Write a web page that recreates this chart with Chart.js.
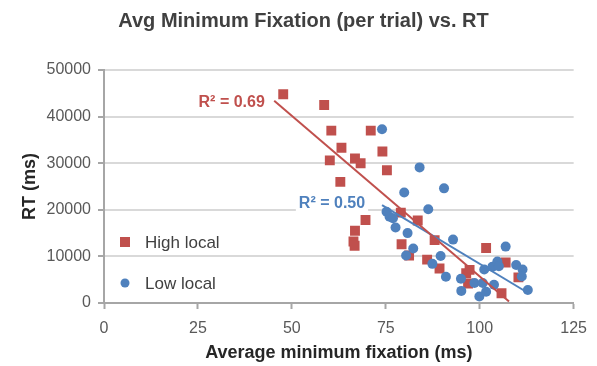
<!DOCTYPE html>
<html lang="en">
  <head>
    <meta charset="UTF-8" />
    <title>Avg Minimum Fixation vs. RT</title>
    <script src="https://cdn.jsdelivr.net/npm/chart.js"></script>
    <style>
      body {
        margin: 0;
        padding: 0;
        background: #fff;
      }
      .wrap {
        width: 597px;
        height: 366px;
      }
    </style>
  </head>
  <body>
    <div class="wrap"><canvas id="chart" width="597" height="366"></canvas></div>

    <script>
      // values (x = avg minimum fixation in ms, y = RT in ms)
      const highX = [47.7, 58.6, 60.5, 71.0, 63.2, 60.1, 66.8, 68.3, 74.1, 75.3, 62.9, 69.6, 66.8, 66.4, 66.7,
        79.0, 83.5, 79.2, 81.2, 88.0, 86.0, 89.3, 101.7, 97.3, 96.4, 96.9, 106.9, 110.3, 105.8];
      const highY = [44800, 42500, 37000, 37000, 33300, 30600, 31000, 30000, 32500, 28500, 26000, 17800, 15500, 13200, 12300,
        19400, 17700, 12600, 10200, 13500, 9300, 7400, 11800, 7100, 6400, 4200, 8700, 5500, 2100];

      const lowX = [74.0, 84.0, 90.5, 79.9, 86.3, 75.2, 76.0, 76.9, 77.6, 80.8, 92.9, 82.3, 80.4, 89.6, 87.4, 91.0,
        95.0, 95.1, 98.6, 99.9, 101.7, 103.8, 101.2, 103.4, 104.7, 105.1, 106.9, 109.7, 111.4, 111.2, 112.8, 100.8];
      const lowY = [37300, 29100, 24600, 23700, 20100, 19600, 18500, 18200, 16200, 15000, 13600, 11700, 10200, 10100, 8400, 5650,
        5200, 2600, 4300, 1400, 2400, 3900, 7200, 7800, 8900, 7900, 12100, 8150, 7200, 5700, 2800, 4300];

      // linear trend lines, end points as drawn
      const highTrendX = [45.3, 107.8];
      const highTrendY = [43400, 300];
      const lowTrendX = [74.0, 112.8];
      const lowTrendY = [21000, 2200];

      const highR2 = 'R² = 0.69';
      const lowR2 = 'R² = 0.50';
      // where the R² labels sit (right edge, data units)
      const highR2At = [42.8, 42900];
      const lowR2At = [69.5, 21250];

      const xTicks = [0, 25, 50, 75, 100, 125];
      const yTicks = [0, 10000, 20000, 30000, 40000, 50000];

      const RED = '#c0504d';
      const BLUE = '#4f81bd';
      const FONT = "'Liberation Sans', Arial, sans-serif";

      const pts = (xs, ys) => xs.map((x, i) => ({ x, y: ys[i] }));

      // R² labels next to the trend lines
      const r2Labels = {
        id: 'r2Labels',
        afterDatasetsDraw(chart) {
          const { ctx, scales } = chart;
          ctx.save();
          ctx.font = 'bold 16px ' + FONT;
          ctx.textAlign = 'right';
          ctx.textBaseline = 'middle';
          [[highR2, highR2At, RED], [lowR2, lowR2At, BLUE]].forEach(([txt, at, col]) => {
            const x = scales.x.getPixelForValue(at[0]);
            const y = scales.y.getPixelForValue(at[1]);
            ctx.fillStyle = '#fff';
            const w = ctx.measureText(txt).width;
            ctx.fillRect(x - w - 3, y - 9, w + 6, 18);
            ctx.fillStyle = col;
            ctx.fillText(txt, x, y);
          });
          ctx.restore();
        },
      };

      // legend inside the plot, bottom left
      const innerLegend = {
        id: 'innerLegend',
        afterDraw(chart) {
          const { ctx, chartArea } = chart;
          ctx.save();
          ctx.font = '17px ' + FONT;
          ctx.textBaseline = 'middle';
          const items = chart.data.datasets.slice(0, 2);
          items.forEach((ds, i) => {
            const cx = chartArea.left + 21;
            const cy = chartArea.bottom - 61 + i * 41;
            ctx.fillStyle = ds.backgroundColor;
            if (ds.pointStyle === 'rect') {
              ctx.fillRect(cx - 5, cy - 5, 10, 10);
            } else {
              ctx.beginPath();
              ctx.arc(cx, cy, 4.5, 0, Math.PI * 2);
              ctx.fill();
            }
            ctx.fillStyle = '#404040';
            ctx.fillText(ds.label, cx + 20, cy + 1);
          });
          ctx.restore();
        },
      };

      new Chart(document.getElementById('chart'), {
        type: 'scatter',
        data: {
          datasets: [
            {
              label: 'High local',
              data: pts(highX, highY),
              pointStyle: 'rect',
              pointRadius: 7,
              borderWidth: 0,
              backgroundColor: RED,
              borderColor: RED,
              order: 3,
            },
            {
              label: 'Low local',
              data: pts(lowX, lowY),
              pointStyle: 'circle',
              pointRadius: 5,
              borderWidth: 0,
              backgroundColor: BLUE,
              borderColor: BLUE,
              order: 2,
            },
            {
              label: 'High trend',
              data: pts(highTrendX, highTrendY),
              showLine: true,
              pointRadius: 0,
              borderColor: RED,
              borderWidth: 2,
              order: 0,
            },
            {
              label: 'Low trend',
              data: pts(lowTrendX, lowTrendY),
              showLine: true,
              pointRadius: 0,
              borderColor: BLUE,
              borderWidth: 2,
              order: 1,
            },
          ],
        },
        options: {
          responsive: false,
          animation: false,
          layout: { padding: { left: 24, right: 14, top: 0, bottom: 0 } },
          plugins: {
            legend: { display: false },
            tooltip: { enabled: false },
            title: {
              display: true,
              text: 'Avg Minimum Fixation (per trial) vs. RT',
              color: '#404040',
              font: { family: FONT, size: 20, weight: 'bold' },
              padding: { top: 9, bottom: 37 },
            },
          },
          scales: {
            x: {
              type: 'linear',
              min: 0,
              max: 125,
              afterBuildTicks: (s) => { s.ticks = xTicks.map((v) => ({ value: v })); },
              afterFit: (s) => { s.height = 63; },
              border: { color: '#a6a6a6', width: 2 },
              grid: { drawOnChartArea: false, drawTicks: true, tickLength: 6, tickColor: '#a6a6a6', tickWidth: 2 },
              ticks: { color: '#595959', font: { family: FONT, size: 16 }, padding: 10, callback: (v) => String(v) },
              title: {
                display: true,
                text: 'Average minimum fixation (ms)',
                color: '#262626',
                font: { family: FONT, size: 18, weight: 'bold' },
                padding: { top: 0, bottom: 2 },
              },
            },
            y: {
              type: 'linear',
              min: 0,
              max: 50000,
              afterBuildTicks: (s) => { s.ticks = yTicks.map((v) => ({ value: v })); },
              afterFit: (s) => { s.width = 80; },
              border: { color: '#a6a6a6', width: 2 },
              grid: { color: '#d9d9d9', lineWidth: 2, drawTicks: true, tickLength: 6, tickColor: '#a6a6a6', tickWidth: 2 },
              ticks: { color: '#595959', font: { family: FONT, size: 16 }, padding: 7, callback: (v) => String(v) },
              title: {
                display: true,
                text: 'RT (ms)',
                color: '#262626',
                font: { family: FONT, size: 18, weight: 'bold' },
                padding: { top: -5, bottom: 0 },
              },
            },
          },
        },
        plugins: [r2Labels, innerLegend],
      });
    </script>
  </body>
</html>
